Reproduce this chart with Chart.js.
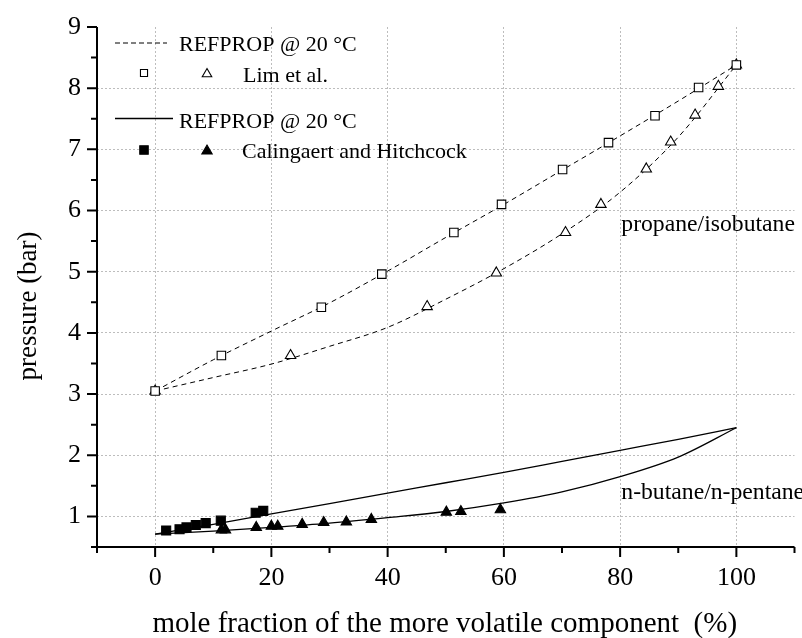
<!DOCTYPE html>
<html>
<head>
<meta charset="utf-8">
<script src="https://cdn.jsdelivr.net/npm/chart.js@4.4.0/dist/chart.umd.min.js"></script>
<style>
  html, body { margin: 0; padding: 0; background: #fff; }
  #wrap { width: 802px; height: 638px; position: relative; }
</style>
</head>
<body>
<div id="wrap"><canvas id="myChart"></canvas></div>
<script>
// REFPROP curves at 20 °C, every 10 % of the lighter component
const refXs = [0, 10, 20, 30, 40, 50, 60, 70, 80, 90, 100];
const propaneBubble = [3.05, 3.56, 4.03, 4.49, 5.01, 5.56, 6.10, 6.66, 7.22, 7.79, 8.38];
const propaneDew = [3.05, 3.27, 3.49, 3.78, 4.09, 4.55, 5.05, 5.62, 6.30, 7.20, 8.38];
const butaneBubble = [0.71, 0.87, 1.04, 1.21, 1.38, 1.55, 1.72, 1.90, 2.08, 2.26, 2.45];
const butaneDew = [0.71, 0.76, 0.82, 0.89, 0.98, 1.08, 1.22, 1.40, 1.65, 1.97, 2.45];

// Lim et al.
const limBubbleX = [0, 11.4, 28.6, 39.0, 51.4, 59.6, 70.1, 78.0, 86.0, 93.5, 100];
const limBubbleP = [3.05, 3.63, 4.42, 4.96, 5.64, 6.10, 6.67, 7.11, 7.55, 8.01, 8.38];
const limDewX = [0, 23.3, 46.8, 58.7, 70.6, 76.7, 84.5, 88.7, 92.9, 96.9, 100];
const limDewP = [3.05, 3.63, 4.43, 4.98, 5.64, 6.10, 6.68, 7.12, 7.56, 8.03, 8.38];

// Calingaert and Hitchcock
const calBubbleX = [1.9, 4.2, 5.4, 7.0, 8.7, 11.3, 17.3, 18.6];
const calBubbleP = [0.77, 0.79, 0.82, 0.86, 0.89, 0.93, 1.06, 1.09];
const calDewX = [11.4, 12.1, 17.4, 20.0, 21.1, 25.3, 29.0, 32.9, 37.2, 50.1, 52.6, 59.4];
const calDewP = [0.78, 0.78, 0.82, 0.84, 0.84, 0.87, 0.90, 0.91, 0.95, 1.07, 1.08, 1.11];

const xTickLabels = [0, 20, 40, 60, 80, 100];
const yTickLabels = [1, 2, 3, 4, 5, 6, 7, 8, 9];
const yGridLines = [1, 2, 3, 4, 5, 6, 7, 8];

const serif = "'Liberation Serif', 'Times New Roman', serif";
Chart.defaults.font.family = serif;
Chart.defaults.color = '#000';

function pts(xs, ys) {
    return xs.map((x, i) => ({x: x, y: ys[i]}));
}

function markers(label, xs, ys, style, filled, r) {
    return {
        label: label,
        data: pts(xs, ys),
        showLine: false,
        pointStyle: style,
        pointRadius: r,
        pointHoverRadius: r,
        pointBorderWidth: 1.1,
        pointBorderColor: '#000',
        pointBackgroundColor: filled ? '#000' : '#fff'
    };
}

function curve(label, ys, dashed) {
    return {
        label: label,
        data: pts(refXs, ys),
        showLine: true,
        pointRadius: 0,
        borderColor: '#000',
        borderWidth: dashed ? 1 : 1.3,
        borderDash: dashed ? [5, 4] : [],
        cubicInterpolationMode: 'monotone',
        fill: false
    };
}

// draws a small marker the same way as the points
function drawMarker(ctx, style, cx, cy, r, filled) {
    ctx.beginPath();
    if (style === 'rect') {
        const s = Math.SQRT1_2 * r;
        ctx.rect(cx - s, cy - s, 2 * s, 2 * s);
    } else {
        for (let k = 0; k < 3; k++) {
            const a = k * 2 * Math.PI / 3;
            const px = cx + Math.sin(a) * r, py = cy - Math.cos(a) * r;
            if (k === 0) ctx.moveTo(px, py); else ctx.lineTo(px, py);
        }
        ctx.closePath();
    }
    ctx.fillStyle = filled ? '#000' : '#fff';
    ctx.fill();
    ctx.lineWidth = 1.1;
    ctx.strokeStyle = '#000';
    ctx.stroke();
}

const frame = {
    id: 'frame',
    afterDraw(chart) {
        const ctx = chart.ctx;
        const a = chart.chartArea;
        const xs = chart.scales.x, ys = chart.scales.y;
        ctx.save();
        ctx.strokeStyle = '#000';
        ctx.lineWidth = 2;
        ctx.setLineDash([]);

        // axis lines
        ctx.beginPath();
        ctx.moveTo(a.left, a.top);
        ctx.lineTo(a.left, a.bottom);
        ctx.lineTo(a.right, a.bottom);
        ctx.stroke();

        // tick marks, long on labelled values
        ctx.beginPath();
        for (let i = 0; i <= 12; i++) {
            const v = -10 + 10 * i;
            const len = xTickLabels.includes(v) ? 10 : 6;
            const px = xs.getPixelForValue(v);
            ctx.moveTo(px, a.bottom);
            ctx.lineTo(px, a.bottom + len);
        }
        for (let i = 1; i <= 18; i++) {
            const v = i * 0.5;
            const len = yTickLabels.includes(v) ? 10 : 6;
            const py = ys.getPixelForValue(v);
            ctx.moveTo(a.left, py);
            ctx.lineTo(a.left - len, py);
        }
        ctx.stroke();

        // legend
        const lx = a.left, ly = a.top;
        ctx.fillStyle = '#000';
        ctx.font = '22px ' + serif;
        ctx.textBaseline = 'alphabetic';
        ctx.textAlign = 'left';

        ctx.lineWidth = 1;
        ctx.setLineDash([5, 3]);
        ctx.beginPath();
        ctx.moveTo(lx + 18, ly + 16);
        ctx.lineTo(lx + 70, ly + 16);
        ctx.stroke();
        ctx.setLineDash([]);
        ctx.fillText('REFPROP @ 20 °C', lx + 82, ly + 24);

        drawMarker(ctx, 'rect', lx + 47, ly + 46, 5, false);
        drawMarker(ctx, 'triangle', lx + 110, ly + 47, 5.5, false);
        ctx.fillStyle = '#000';
        ctx.fillText('Lim et al.', lx + 146, ly + 54.5);

        ctx.lineWidth = 1.3;
        ctx.beginPath();
        ctx.moveTo(lx + 18, ly + 91.5);
        ctx.lineTo(lx + 76, ly + 91.5);
        ctx.stroke();
        ctx.fillText('REFPROP @ 20 °C', lx + 82, ly + 101);

        drawMarker(ctx, 'rect', lx + 47, ly + 123, 6, true);
        drawMarker(ctx, 'triangle', lx + 110, ly + 124, 6, true);
        ctx.fillStyle = '#000';
        ctx.fillText('Calingaert and Hitchcock', lx + 145, ly + 131);

        // mixture labels
        ctx.font = '23.7px ' + serif;
        ctx.fillText('propane/isobutane', xs.getPixelForValue(80.2), ys.getPixelForValue(5.67));
        ctx.fillText('n-butane/n-pentane', xs.getPixelForValue(80.2), ys.getPixelForValue(1.28));

        // axis titles
        ctx.font = '29px ' + serif;
        ctx.textAlign = 'center';
        ctx.fillText('mole fraction of the more volatile component  (%)', (a.left + a.right) / 2 - 1, 632);
        ctx.font = '27px ' + serif;
        ctx.translate(36, 306);
        ctx.rotate(-Math.PI / 2);
        ctx.fillText('pressure (bar)', 0, 0);
        ctx.restore();
    }
};

const ctx = document.getElementById('myChart');
new Chart(ctx, {
    type: 'scatter',
    data: {
        datasets: [
            markers('Lim et al. (bubble)', limBubbleX, limBubbleP, 'rect', false, 6),
            markers('Lim et al. (dew)', limDewX, limDewP, 'triangle', false, 6),
            markers('Calingaert and Hitchcock (bubble)', calBubbleX, calBubbleP, 'rect', true, 6.4),
            markers('Calingaert and Hitchcock (dew)', calDewX, calDewP, 'triangle', true, 6),
            curve('propane/isobutane bubble', propaneBubble, true),
            curve('propane/isobutane dew', propaneDew, true),
            curve('n-butane/n-pentane bubble', butaneBubble, false),
            curve('n-butane/n-pentane dew', butaneDew, false)
        ]
    },
    options: {
        responsive: true,
        maintainAspectRatio: false,
        animation: false,
        events: [],
        layout: {padding: {top: 27, right: 4, left: 0, bottom: 0}},
        plugins: {legend: {display: false}, tooltip: {enabled: false}},
        scales: {
            x: {
                type: 'linear',
                min: -10,
                max: 110,
                afterFit: (scale) => {
                    scale.height = 91;
                    scale.paddingLeft = 0;
                    scale.paddingRight = 0;
                },
                border: {display: false, dash: [2, 2]},
                grid: {
                    drawTicks: false,
                    lineWidth: 1,
                    color: (c) => xTickLabels.includes(c.tick && c.tick.value) ? '#bdbdbd' : 'rgba(0,0,0,0)'
                },
                ticks: {
                    stepSize: 10,
                    autoSkip: false,
                    maxRotation: 0,
                    padding: 16,
                    font: {size: 26},
                    callback: (v) => xTickLabels.includes(v) ? String(v) : ''
                }
            },
            y: {
                type: 'linear',
                min: 0.5,
                max: 9,
                afterFit: (scale) => {
                    scale.width = 97;
                    scale.paddingTop = 0;
                    scale.paddingBottom = 0;
                },
                border: {display: false, dash: [2, 2]},
                grid: {
                    drawTicks: false,
                    lineWidth: 1,
                    color: (c) => yGridLines.includes(c.tick && c.tick.value) ? '#bdbdbd' : 'rgba(0,0,0,0)'
                },
                ticks: {
                    stepSize: 0.5,
                    autoSkip: false,
                    padding: 16,
                    font: {size: 26},
                    callback: (v) => yTickLabels.includes(v) ? String(v) : ''
                }
            }
        }
    },
    plugins: [frame]
});
</script>
</body>
</html>
